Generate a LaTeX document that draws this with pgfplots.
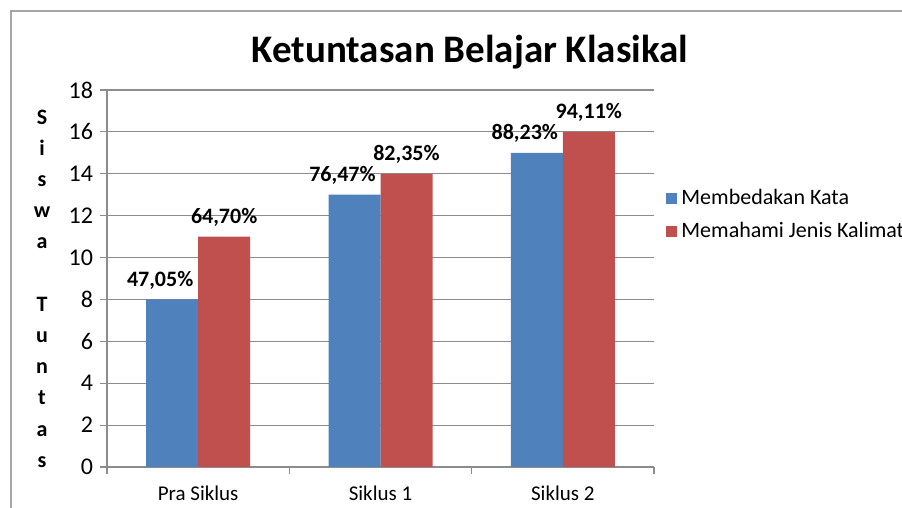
\documentclass[border=0pt]{standalone}
\usepackage{pgfplots}
\pgfplotsset{compat=1.18}
\usepackage{fontspec}
\setmainfont{Carlito}
\definecolor{cblue}{HTML}{4F81BD}
\definecolor{cred}{HTML}{C0504D}
\definecolor{cgrid}{HTML}{8C8C8C}
\definecolor{cframe}{HTML}{A6A6A6}
\begin{document}
\begin{tikzpicture}
\useasboundingbox (0,0) rectangle (451pt,254pt);
\draw[cframe, line width=1pt] (5.5pt,-2pt) -- (5.5pt,248.5pt) -- (456pt,248.5pt);
\node[font=\fontsize{19.5}{23}\selectfont\bfseries] at (235pt,228pt) {Ketuntasan Belajar Klasikal};
\node[font=\fontsize{11}{15.6}\selectfont\bfseries, align=center] at (21pt,109.75pt) {S\\i\\s\\w\\a\\[15.6pt]T\\u\\n\\t\\a\\s};
\begin{axis}[
  at={(53.5pt,20.5pt)}, anchor=south west,
  scale only axis, width=273.5pt, height=188.5pt,
  ymin=0, ymax=18, ytick={0,2,...,18},
  xmin=-0.5, xmax=2.5,
  ybar=0pt, bar width=26pt,
  axis x line*=bottom, axis y line*=left,
  axis line style={draw=cgrid, line width=0.6pt, -},
  ymajorgrids, grid style={draw=cgrid, line width=0.6pt},
  tick align=outside, major tick length=3.5pt,
  tick style={draw=cgrid, line width=0.6pt},
  xtick={-0.5,0.5,1.5,2.5}, xticklabels={},
  extra x ticks={0,1,2},
  extra x tick labels={Pra Siklus, Siklus 1, Siklus 2},
  extra x tick style={major tick length=0pt, grid=none},
  /pgf/number format/assume math mode=true,
  every y tick label/.append style={xshift=0pt, font=\fontsize{12}{13}\selectfont},
  every x tick label/.append style={yshift=-6pt, font=\fontsize{10.5}{12}\selectfont},
  nodes near coords,
  point meta=explicit symbolic,
  every node near coord/.append style={font=\fontsize{11}{13}\selectfont\bfseries, yshift=1.5pt, text=black},
  legend style={at={(1.011,0.668)}, anchor=west, draw=none, fill=none,
    font=\fontsize{11}{12}\selectfont, cells={anchor=west}, row sep=3.5pt},
  every axis plot/.append style={legend image code/.code={\fill[#1,draw=none] (0pt,-2.75pt) rectangle (5.5pt,2.75pt);}},
]
\addplot[fill=cblue, draw=none, every node near coord/.append style={xshift=-6pt}] coordinates {(0,8) [47,05\%] (1,13) [76,47\%] (2,15) [88,23\%]};
\addplot[fill=cred, draw=none] coordinates {(0,11) [64,70\%] (1,14) [82,35\%] (2,16) [94,11\%]};
\legend{Membedakan Kata, Memahami Jenis Kalimat}
\end{axis}
\end{tikzpicture}
\end{document}
